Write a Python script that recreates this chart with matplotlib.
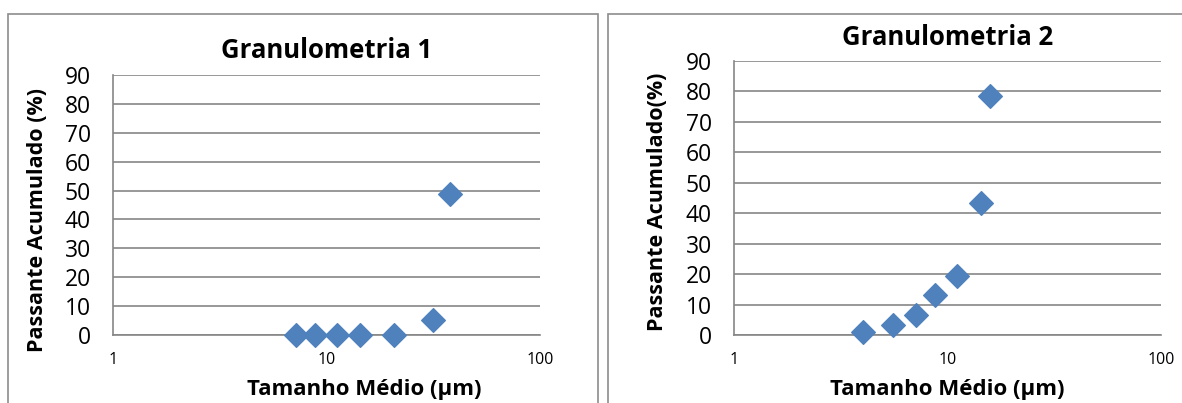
import matplotlib.pyplot as plt
from matplotlib.patches import Rectangle

plt.rcParams['font.family'] = ['Open Sans', 'DejaVu Sans']

# Granulometria 1
tam1 = [7.2, 8.8, 11.2, 14.3, 20.7, 31.7, 38.0]
pass1 = [0, 0, 0, 0, 0, 5.2, 48.7]

# Granulometria 2
tam2 = [4.03, 5.54, 7.13, 8.73, 11.1, 14.3, 15.8]
pass2 = [1.1, 3.3, 6.5, 13.1, 19.5, 43.2, 78.6]

yticks = [0, 10, 20, 30, 40, 50, 60, 70, 80, 90]
xticks = [1, 10, 100]
xticklabels = ['1', '10', '100']

cor = '#4F81BD'
cinza = '#868686'

fig = plt.figure(figsize=(11.82, 4.03), dpi=100)

# molduras dos graficos
fig.patches.append(Rectangle((8 / 1182, -0.05), 590 / 1182, 1.05 - 14 / 403,
                             transform=fig.transFigure, fill=False,
                             edgecolor='#8c8c8c', lw=1.2))
fig.patches.append(Rectangle((608 / 1182, -0.05), 600 / 1182, 1.05 - 14 / 403,
                             transform=fig.transFigure, fill=False,
                             edgecolor='#8c8c8c', lw=1.2))

ax1 = fig.add_axes([113 / 1182, 1 - 335 / 403, 427 / 1182, 260 / 403])
ax2 = fig.add_axes([734 / 1182, 1 - 335 / 403, 427 / 1182, 274 / 403])

configs = [
    (ax1, tam1, pass1, 'Granulometria 1', 'Passante Acumulado (%)',
     (0.589, -0.2115), (-0.176, 0.444), 1.096),
    (ax2, tam2, pass2, 'Granulometria 2', 'Passante Acumulado(%)',
     (0.5, -0.2), (-0.18, 0.487), 1.084),
]

for ax, x, y, titulo, ylab, xlc, ylc, ty in configs:
    ax.scatter(x, y, marker='D', s=145, color=cor, zorder=3, clip_on=False)
    ax.set_xscale('log')
    ax.set_xlim(1, 100)
    ax.set_ylim(0, 90)
    ax.set_xticks(xticks)
    ax.set_xticklabels(xticklabels)
    ax.minorticks_off()
    ax.set_yticks(yticks)
    ax.yaxis.grid(True, color=cinza, lw=1.2)
    ax.set_axisbelow(True)
    for s in ['top', 'right']:
        ax.spines[s].set_visible(False)
    for s in ['left', 'bottom']:
        ax.spines[s].set_color(cinza)
        ax.spines[s].set_linewidth(1.2)
    ax.tick_params(axis='y', length=0, pad=16, labelsize=16.5)
    ax.tick_params(axis='x', length=0, pad=12, labelsize=11.5)
    ax.text(0.5, ty, titulo, transform=ax.transAxes, ha='center', va='center',
            fontsize=18.5, fontweight='bold')
    ax.set_xlabel('Tamanho Médio (µm)', fontsize=16, fontweight='bold')
    ax.set_ylabel(ylab, fontsize=15.5, fontweight='bold')
    ax.xaxis.set_label_coords(*xlc)
    ax.yaxis.set_label_coords(*ylc)
    ax.xaxis.label.set_va('center')
    ax.yaxis.label.set_va('center')

fig.savefig('out.png', dpi=100)
